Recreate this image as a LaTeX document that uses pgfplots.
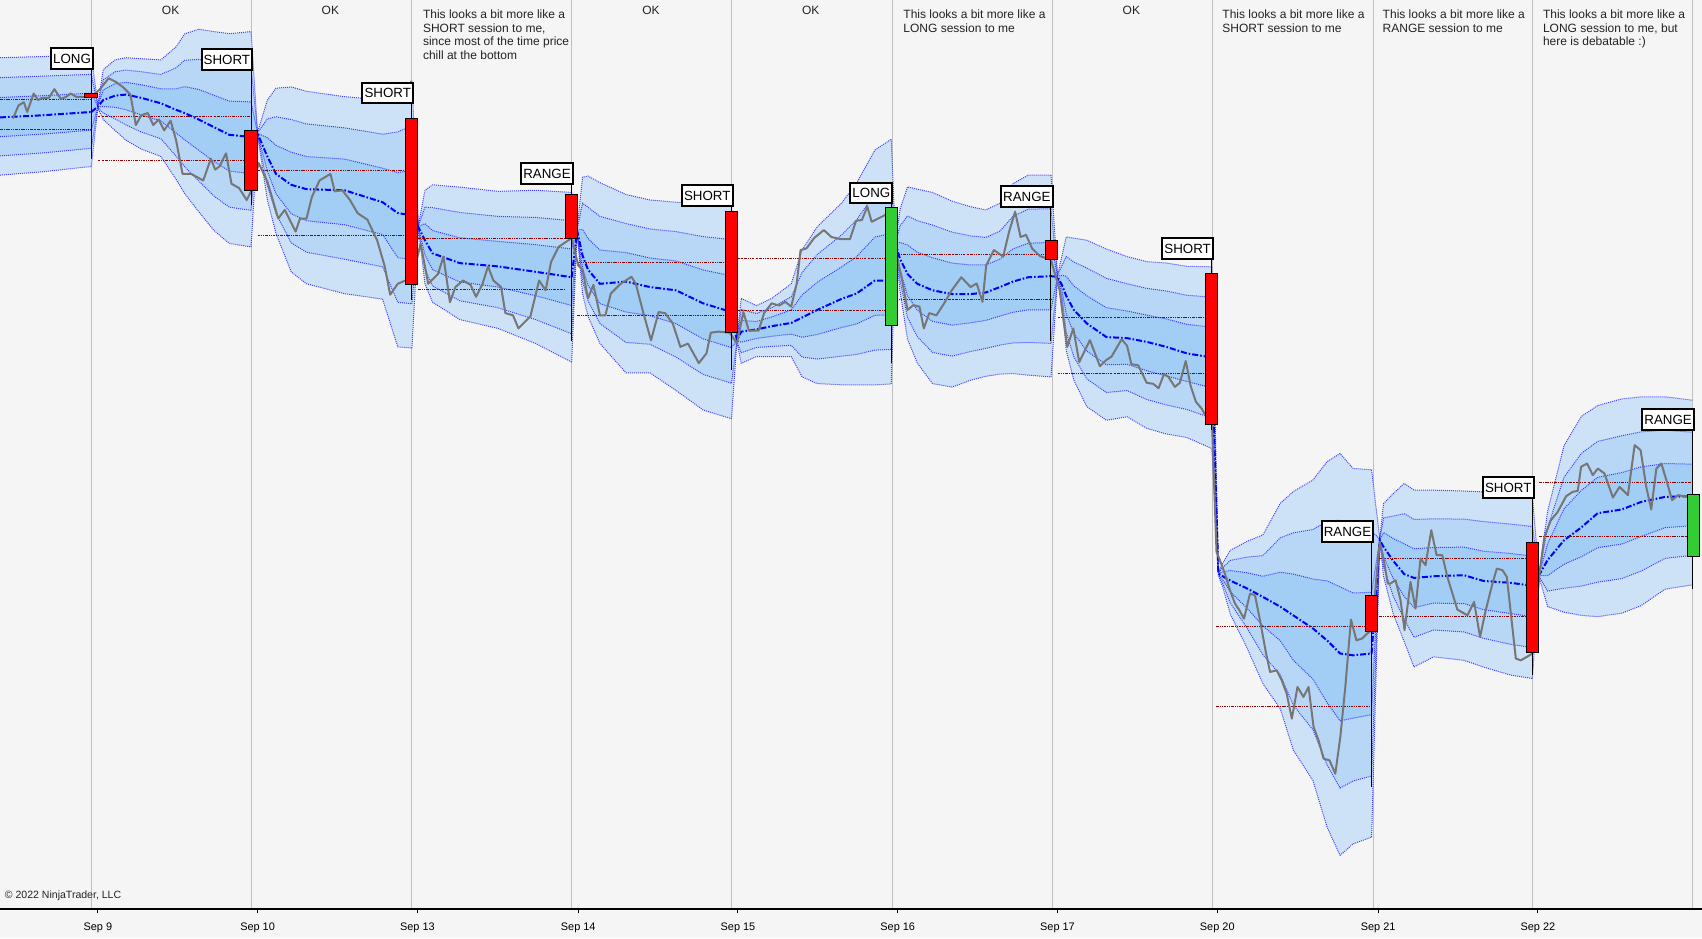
\documentclass[border=0pt]{standalone}
\usepackage{fontspec}
\setmainfont{Liberation Sans}
\usepackage{pgfplots}
\usepackage{pgfplotstable}
\pgfplotsset{compat=1.18}
\usepgfplotslibrary{fillbetween}

\definecolor{bg}{RGB}{245,245,245}
\definecolor{gridc}{RGB}{192,192,192}
\definecolor{bandA}{RGB}{206,226,247}
\definecolor{bandB}{RGB}{184,215,247}
\definecolor{bandC}{RGB}{162,205,245}
\definecolor{bandln}{RGB}{50,50,250}
\definecolor{dred}{RGB}{139,0,0}
\definecolor{pricec}{RGB}{118,118,118}
\definecolor{cgreen}{RGB}{50,205,50}
\definecolor{txt}{RGB}{35,35,35}
\pagecolor{bg}

% sessions: x, centre (VWAP), upper sigma, lower sigma  (y = price scale, screen units)
\pgfplotstableread{
x c du dl
0 -108 18.3 17.7
40 -106 18 17.3
84 -103 17.3 16.7
}\sP
\pgfplotstableread{
x c du dl
84 -103 17.3 16.7
90 -98 0.5 0.5
95 -92 9.3 6
106 -88 11 10.7
116 -87 11.3 14
130 -90 12 15.7
148 -95 13.3 16.3
162 -101 19.3 21.3
170 -104 24.3 24.7
183 -110 27.7 28.3
197 -117 29.3 31.7
211 -124 31 33.3
231 -126 32.3 33.7
}\sA
\pgfplotstableread{
x c du dl
231 -126 32.3 33.7
237 -123 0.5 0.5
246 -144 17.3 13.3
254 -160 26.3 18.3
268 -170 30 26.7
282 -174 30 29
317 -175 28.7 31.7
352 -186 31.3 29.7
366 -196 37.3 41
379 -198 41.3 40.7
}\sB
\pgfplotstableread{
x c du dl
379 -198 41.3 40.7
385 -209 0.5 0.5
391 -221 15.3 13.3
398 -233 21 15
423 -242 23.3 17.3
458 -245 23 19
493 -250 25 22
526 -255 26 26
}\sC
\pgfplotstableread{
x c du dl
526 -255 26 26
531 -212 0.5 0.5
536 -235 24 11.7
541 -248 28.7 14.3
552 -261 31 18.3
576 -259 26.7 28
598 -264 26.7 26.3
622 -267 27 30.7
647 -279 30.7 32.7
673 -287 33.3 32.7
}\sD
\pgfplotstableread{
x c du dl
673 -287 33.3 32.7
678 -313 0.5 0.5
682 -305 10.2 9.7
696 -303 7.3 8.3
710 -300 8.5 9.3
728 -297 12 10.3
738 -292 20.7 18.2
752 -285 25.5 22.6
774 -275 29.3 26.3
788 -270 33.8 28
805 -258 40 32
820 -258 43.3 31.7
}\sE
\pgfplotstableread{
x c du dl
820 -258 43.3 31.7
824 -224 0.5 0.5
828 -238 15 9.7
835 -252 26.7 20
844 -261 29 24.3
858 -267 30 28.6
876 -270.5 28.5 28.5
893 -270.5 26.8 26.4
907 -269 25.3 25.7
920 -264 25.7 26.7
932 -259 30 28.2
946 -255 31.3 30
967 -254 31 30.9
}\sF
\pgfplotstableread{
x c du dl
967 -254 31 30.9
973 -254.6 0.5 0.5
977 -262 8.7 4.7
981 -272 18 16.7
988 -285 22 21.5
1000 -297.5 25.5 25.5
1018 -310 27 25.5
1037 -311 25 24.1
1055 -314.4 24.6 26.5
1073 -319 25.7 26.7
1092 -325 26.7 25.8
1115 -328.8 27.8 27.9
}\sG
\pgfplotstableread{
x c du dl
1115 -328.8 27.8 27.9
1121 -527.5 0.5 0.5
1125 -530 4 3.3
1132 -534 9.3 10.3
1147 -541 14.3 18
1162 -549 19 26.6
1178 -558 31.7 31.3
1190 -566 38 41.3
1208 -578 45.5 46.6
1221 -589 54.8 57.2
1233 -601 61.3 61.9
1245 -602.7 57.3 57.8
1262 -601 56.3 56.3
}\sH
\pgfplotstableread{
x c du dl
1262 -601 56.3 56.3
1269.5 -496.8 0.5 0.5
1273 -503 13.3 9
1282 -516 20.7 16.3
1292 -528 27.8 20.7
1301 -531.5 26.9 27.3
1319 -530 26.4 24.7
1347 -529 25.8 26.1
1365 -534.3 27.3 26.4
1390 -536 27 28.3
1410 -538.8 27.3 28.4
}\sI
\pgfplotstableread{
x c du dl
1410 -538.8 27.3 28.4
1416 -529 0.5 0.5
1424 -515 15 14.3
1439 -497 29 22
1455 -485 34 27
1470 -472 33 31.7
1492 -468.6 33.9 31.8
1510 -461.6 32.2 31.8
1532 -457 30.7 28.3
1557 -456.3 29.4 27.2
}\sJ

\pgfplotstableread{
x y
12 -109
17 -97
22 -94
25 -103
31 -86
35 -92
39 -90
45 -90
50 -82
56 -91
61 -89
65 -86
70 -89
78 -89
84.5 -89
92 -82
100 -72
106 -75
113 -80
120 -87
125 -115
130 -106
136 -104
141 -115
146 -110
151 -120
157 -111
162 -129
168 -160
176 -160
187 -166
194 -146
198 -156
202 -153
208 -141
213 -169
220 -173
227 -184
231 -176
238 -150
246 -167
256 -201
262 -193
272 -213
276 -201
282 -201
287 -181
294 -166
299 -163
304 -160
308 -176
315 -175
322 -184
329 -196
338 -202
347 -221
354 -245
359 -271
366 -261
373 -258
379 -258
387 -224
394 -261
403 -252
408 -236
414 -278
419 -264
426 -258
433 -262
438 -273
444 -261
449 -245
454 -258
461 -264
465 -288
472 -290
477 -302
488 -291
496 -258
502 -267
507 -241
514 -227
526 -219
532 -244
536 -248
541 -274.5
546 -262
552 -290
557 -290
562 -270
571 -261
581 -254.6
585 -261
592 -288
599 -313
606 -287
612 -288
619 -297.5
626 -319
633 -316
643 -334
650 -325
654 -306
661 -305
671.5 -306
678 -316
684 -287
689 -304
698 -304
703 -288
710 -279
717 -281
722.5 -277.6
728 -282
733 -261
736.6 -230
742 -228.5
749 -219
758 -211.6
765 -218
773.6 -220
782 -220
787.7 -203
793 -202.4
798 -190
802 -204
814 -198
820 -193
824.7 -233
830 -257.6
835 -285
840.5 -280.6
846 -282
850 -302
855 -288
861.6 -290
868.7 -279
875.7 -267
884.5 -255
893 -264
898.6 -260.7
904 -277.6
907.4 -244
914.5 -230
923 -236
928.5 -213
934 -194.7
939 -218
944 -216
949.6 -228.5
956.7 -235.5
967 -239
975 -267
978 -291
982 -319
987.5 -302
993 -333
1002.8 -312.8
1012 -336.8
1018 -331
1022.7 -328
1032 -312
1037 -318
1041 -335
1047.3 -336
1055 -352
1061 -353
1066 -357
1071 -344
1075 -346.6
1081 -355.8
1085.6 -352
1091 -332
1095.5 -355
1100.4 -369.6
1105.6 -375.7
1110 -383.4
1115 -385
1119.3 -507.6
1122.4 -515.2
1127 -527.5
1131.7 -543
1136.3 -555
1140.3 -561.2
1144.6 -569
1150.1 -546
1154.7 -547.4
1159.3 -570.4
1164.9 -601
1168.6 -618
1174.7 -616.5
1179.3 -625.7
1183.9 -638
1188.6 -661
1193.8 -631.8
1199.3 -641
1204 -631.8
1208.6 -668.6
1213.2 -680.9
1217.8 -697.7
1223.3 -699.3
1228.6 -711.6
1233.2 -677.8
1237.8 -631.8
1243 -569.8
1248 -588.9
1253.2 -587.3
1257.8 -582.7
1262 -579.6
1269.5 -498.4
1273.2 -515.2
1276.9 -536.7
1279.3 -536.7
1284 -533.6
1288.6 -552
1292.3 -579.6
1297.8 -535.2
1302.4 -559.7
1307 -513.7
1311.6 -519.8
1316.9 -487.6
1321.8 -510.6
1327 -510.6
1331.7 -530.6
1340.9 -560.6
1350.1 -565.9
1356.3 -553.6
1361.8 -585.8
1367 -561.2
1373.2 -536.7
1377.2 -522.9
1382.4 -524.4
1386.4 -530.6
1394.7 -605.7
1399.3 -607.3
1410 -601.1
1416.3 -529
1421 -493.8
1427 -478.4
1433.2 -470.8
1441 -456.3
1447 -452.4
1451.7 -451.4
1454.7 -429.3
1460.3 -426.3
1465.5 -437
1470.1 -430.9
1476.3 -435.5
1484 -457.6
1490.1 -447.8
1497.8 -455.4
1504 -409.4
1509.5 -414
1514.7 -447.8
1519.3 -468.6
1524 -430.9
1528.6 -426.3
1533.2 -441.6
1538.4 -460
1544 -455.4
1553.2 -457
1556.3 -457
}\price

\tikzset{
  bandline/.style={draw=bandln, draw opacity=0.9, line width=0.75pt, dash pattern=on 0.75pt off 0.75pt, mark=none},
  centreline/.style={draw=blue, line width=1.5pt, dash pattern=on 4.5pt off 1.5pt on 1.2pt off 1.5pt, mark=none},
  lvl/.style={draw=dred, line width=0.7pt, dash pattern=on 2pt off 0.8pt on 0.6pt off 0.8pt on 0.6pt off 0.8pt, mark=none},
  wick/.style={draw=black, line width=0.75pt, mark=none},
  lbl/.style={draw=black, line width=1.5pt, fill=white, inner xsep=1.6pt, inner ysep=0pt,
     text height=7.3pt, text depth=0pt, minimum height=15.5pt, text=black,
     font=\fontsize{10}{12}\selectfont},
  ann/.style={inner sep=0pt, text=txt, font=\fontsize{9}{10.35}\selectfont},
}

\newcommand{\sessionband}[2]{%
\addplot[bandline, name path=a#2] table[x=x,y expr=\thisrow{c}+3*\thisrow{du}]{#1};
\addplot[bandline, name path=b#2] table[x=x,y expr=\thisrow{c}+2*\thisrow{du}]{#1};
\addplot[bandline, name path=c#2] table[x=x,y expr=\thisrow{c}+\thisrow{du}]{#1};
\addplot[bandline, name path=d#2] table[x=x,y expr=\thisrow{c}-\thisrow{dl}]{#1};
\addplot[bandline, name path=e#2] table[x=x,y expr=\thisrow{c}-2*\thisrow{dl}]{#1};
\addplot[bandline, name path=f#2] table[x=x,y expr=\thisrow{c}-3*\thisrow{dl}]{#1};
\addplot[fill=bandA, draw=none] fill between[of=a#2 and f#2];
\addplot[fill=bandB, draw=none] fill between[of=b#2 and e#2];
\addplot[fill=bandC, draw=none] fill between[of=c#2 and d#2];
\addplot[centreline] table[x=x,y=c]{#1};
}

\begin{document}%
\begin{tikzpicture}
\begin{axis}[
  at={(0pt,0pt)}, anchor=south west,
  scale only axis, width=1276.5pt, height=681.75pt,
  xmin=0, xmax=1566, ymin=-836, ymax=0,
  set layers,
  axis background/.style={fill=bg},
  axis x line*=bottom, axis y line=none,
  axis line style={-},
  x axis line style={-, line width=1.5pt, black},
  xtick={90,237,384,532,679,826,973,1120,1268,1415},
  xticklabels={Sep 9,Sep 10,Sep 13,Sep 14,Sep 15,Sep 16,Sep 17,Sep 20,Sep 21,Sep 22},
  xticklabel style={font=\fontsize{8.2}{9}\selectfont, anchor=base, yshift=-13.1pt, inner sep=0pt},
  tick align=outside, major tick length=3.2pt,
  tick style={black, line width=0.75pt},
  extra x ticks={84,231,379,526,673,821,968,1116,1264,1410,1557},
  extra x tick labels={},
  extra x tick style={grid=major, major tick length=0pt,
     major grid style={draw=gridc, line width=0.75pt}},
  ytick=\empty,
]
\coordinate (BL) at (rel axis cs:0,0);
\coordinate (TR) at (rel axis cs:1,1);
\sessionband{\sP}{P}
\sessionband{\sA}{A}
\sessionband{\sB}{B}
\sessionband{\sC}{C}
\sessionband{\sD}{D}
\sessionband{\sE}{E}
\sessionband{\sF}{F}
\sessionband{\sG}{G}
\sessionband{\sH}{H}
\sessionband{\sI}{I}
\sessionband{\sJ}{J}

% prior-session levels
\addplot[lvl] coordinates {(0,-91.4) (84,-91.4)};
\addplot[lvl] coordinates {(0,-119) (84,-119)};
\addplot[lvl] coordinates {(90,-107) (231,-107)};
\addplot[lvl] coordinates {(90,-147.5) (231,-147.5)};
\addplot[lvl] coordinates {(237,-157) (373,-157)};
\addplot[lvl] coordinates {(237,-216.6) (373,-216.6)};
\addplot[lvl] coordinates {(385,-219) (526,-219)};
\addplot[lvl] coordinates {(385,-266) (520,-266)};
\addplot[lvl] coordinates {(531,-241) (667,-241)};
\addplot[lvl] coordinates {(531,-290) (667,-290)};
\addplot[lvl] coordinates {(678,-237.7) (814,-237.7)};
\addplot[lvl] coordinates {(678,-286) (814,-286)};
\addplot[lvl] coordinates {(824,-234) (962,-234)};
\addplot[lvl] coordinates {(824,-275.4) (967,-275.4)};
\addplot[lvl] coordinates {(973,-292) (1109,-292)};
\addplot[lvl] coordinates {(973,-343.5) (1109,-343.5)};
\addplot[lvl] coordinates {(1119,-575.7) (1256,-575.7)};
\addplot[lvl] coordinates {(1119,-649.9) (1262,-649.9)};
\addplot[lvl] coordinates {(1269,-513.7) (1404,-513.7)};
\addplot[lvl] coordinates {(1269,-567.4) (1404,-567.4)};
\addplot[lvl] coordinates {(1416,-444) (1557,-444)};
\addplot[lvl] coordinates {(1416,-493.2) (1552,-493.2)};

% price
\addplot[draw=pricec, line width=1.5pt, mark=none, line join=round] table[x=x,y=y]{\price};

% session candles: wicks and bodies
\addplot[wick] coordinates {(84.5,-64) (84.5,-146)};
\addplot[wick] coordinates {(231,-65) (231,-189)};
\addplot[wick] coordinates {(379,-96) (379,-276)};
\addplot[wick] coordinates {(526,-170) (526,-314)};
\addplot[wick] coordinates {(673,-190) (673,-340)};
\addplot[wick] coordinates {(820,-188) (820,-334)};
\addplot[wick] coordinates {(967,-191) (967,-314)};
\addplot[wick] coordinates {(1115,-239) (1115,-395.6)};
\addplot[wick] coordinates {(1262,-499) (1262,-723.8)};
\addplot[wick] coordinates {(1410,-459) (1410,-621)};
\addplot[wick] coordinates {(1557,-396) (1557,-541.3)};

\addplot[draw=black, fill=red, line width=0.6pt] coordinates {(78,-86) (90,-86) (90,-90) (78,-90)} -- cycle;
\addplot[draw=black, fill=red, line width=0.6pt] coordinates {(225,-120) (237,-120) (237,-175) (225,-175)} -- cycle;
\addplot[draw=black, fill=red, line width=0.6pt] coordinates {(373,-109) (384,-109) (384,-262) (373,-262)} -- cycle;
\addplot[draw=black, fill=red, line width=0.6pt] coordinates {(520,-179) (531,-179) (531,-219) (520,-219)} -- cycle;
\addplot[draw=black, fill=red, line width=0.6pt] coordinates {(667,-194) (678.5,-194) (678.5,-306) (667,-306)} -- cycle;
\addplot[draw=black, fill=cgreen, line width=0.6pt] coordinates {(814.5,-191) (825.7,-191) (825.7,-299) (814.5,-299)} -- cycle;
\addplot[draw=black, fill=red, line width=0.6pt] coordinates {(962,-221) (973,-221) (973,-238.6) (962,-238.6)} -- cycle;
\addplot[draw=black, fill=red, line width=0.6pt] coordinates {(1109,-251.5) (1120,-251.5) (1120,-390) (1109,-390)} -- cycle;
\addplot[draw=black, fill=red, line width=0.6pt] coordinates {(1256.6,-547.4) (1267.7,-547.4) (1267.7,-580.6) (1256.6,-580.6)} -- cycle;
\addplot[draw=black, fill=red, line width=0.6pt] coordinates {(1404.6,-498.4) (1415.7,-498.4) (1415.7,-600.2) (1404.6,-600.2)} -- cycle;
\addplot[draw=black, fill=cgreen, line width=0.6pt] coordinates {(1552.3,-455.1) (1563.3,-455.1) (1563.3,-511.6) (1552.3,-511.6)} -- cycle;

% classification labels
\node[lbl, anchor=south east] at (axis cs:86.5,-64) {LONG};
\node[lbl, anchor=south east] at (axis cs:233,-65) {SHORT};
\node[lbl, anchor=south east] at (axis cs:381,-96) {SHORT};
\node[lbl, anchor=south east] at (axis cs:528,-170) {RANGE};
\node[lbl, anchor=south east] at (axis cs:675,-190) {SHORT};
\node[lbl, anchor=south east] at (axis cs:822,-188) {LONG};
\node[lbl, anchor=south east] at (axis cs:969.5,-191) {RANGE};
\node[lbl, anchor=south east] at (axis cs:1117,-239) {SHORT};
\node[lbl, anchor=south east] at (axis cs:1264.5,-499) {RANGE};
\node[lbl, anchor=south east] at (axis cs:1412,-459) {SHORT};
\node[lbl, anchor=south east] at (axis cs:1559.5,-396) {RANGE};

% annotations
\node[ann, anchor=north] at (axis cs:157,-5.5) {OK};
\node[ann, anchor=north] at (axis cs:304,-5.5) {OK};
\node[ann, anchor=north] at (axis cs:599,-5.5) {OK};
\node[ann, anchor=north] at (axis cs:746,-5.5) {OK};
\node[ann, anchor=north] at (axis cs:1041,-5.5) {OK};
\node[ann, anchor=north west, align=left] at (axis cs:389,-8.6) {This looks a bit more like a\\SHORT session to me,\\since most of the time price\\chill at the bottom};
\node[ann, anchor=north west, align=left] at (axis cs:831,-8.6) {This looks a bit more like a\\LONG session to me};
\node[ann, anchor=north west, align=left] at (axis cs:1124.5,-8.6) {This looks a bit more like a\\SHORT session to me};
\node[ann, anchor=north west, align=left] at (axis cs:1272,-8.6) {This looks a bit more like a\\RANGE session to me};
\node[ann, anchor=north west, align=left] at (axis cs:1419.5,-8.6) {This looks a bit more like a\\LONG session to me, but\\here is debatable :)};
\node[ann, anchor=west, font=\fontsize{7.9}{9}\selectfont] at (axis cs:4.3,-823.5) {© 2022 NinjaTrader, LLC};
\end{axis}
\pgfresetboundingbox
\path[use as bounding box] ([yshift=-21.75pt]BL) rectangle (TR);
\end{tikzpicture}%
\end{document}
